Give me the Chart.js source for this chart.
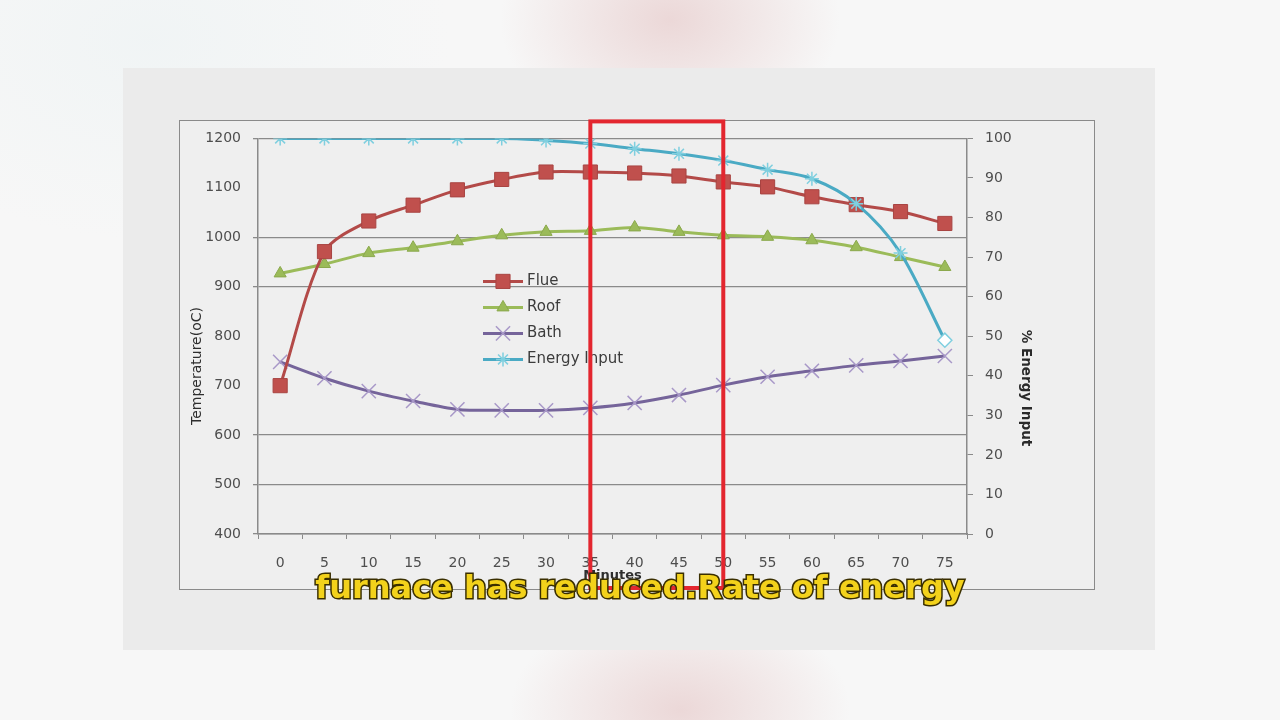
<!DOCTYPE html>
<html>
<head>
<meta charset="utf-8">
<script src="https://cdn.jsdelivr.net/npm/chart.js@4.4.0/dist/chart.umd.min.js"></script>
<style>
  body {
    margin: 0;
    width: 1280px;
    height: 720px;
    overflow: hidden;
    position: relative;
    background:
      radial-gradient(ellipse 170px 120px at 670px 20px, rgba(226,190,190,0.55), rgba(226,190,190,0) 100%),
      radial-gradient(ellipse 170px 110px at 680px 710px, rgba(226,190,190,0.55), rgba(226,190,190,0) 100%),
      radial-gradient(ellipse 300px 200px at 150px 40px, rgba(225,238,240,0.3), rgba(225,238,240,0) 100%),
      #f7f7f7;
    font-family: "DejaVu Sans", sans-serif;
  }
  #panel {
    position: absolute;
    left: 123px; top: 68px;
    width: 1032px; height: 582px;
    background: #ebebeb;
  }
  #frame {
    position: absolute;
    left: 179px; top: 120px;
    width: 914px; height: 468px;
    border: 1.5px solid #8a8a8a;
    background: #efefef;
  }
  #chart {
    position: absolute;
    left: 179px; top: 118px;
  }
  #caption {
    position: absolute;
    left: 0; width: 1280px;
    top: 568px;
    line-height: 37px;
    text-align: center;
    font: bold 32px "DejaVu Sans", sans-serif;
    color: #f3d21b;
    -webkit-text-stroke: 3px #3a2f00;
    paint-order: stroke fill;
  }
</style>
</head>
<body>
<div id="panel"></div>
<div id="frame"></div>
<canvas id="chart" width="916" height="472"></canvas>
<div id="caption">furnace has reduced.Rate of energy</div>

<script>
// minutes on the x axis
const minutes = ['0','5','10','15','20','25','30','35','40','45','50','55','60','65','70','75'];

// temperatures (oC), left axis
const flue = [700, 971, 1033, 1065, 1096, 1117, 1132, 1132, 1130, 1124, 1112, 1102, 1082, 1066, 1052, 1028];
const roof = [927, 946, 968, 979, 992, 1004, 1011, 1013, 1020, 1011, 1004, 1001, 994, 980, 960, 940];
const bath = [748, 715, 689, 669, 652, 650, 650, 655, 665, 681, 701, 718, 730, 741, 750, 760];

// % energy input, right axis
const energy = [100, 100, 100, 100, 100, 100, 99.5, 98.7, 97.4, 96.1, 94.4, 92.1, 89.8, 83.5, 71, 49];

// gridlines that show in the picture (the others are lost in the scan)
const shownGrid = [1200, 1000, 900, 600, 500, 400];

const tickFont = { family: 'DejaVu Sans', size: 14 };
const tickColor = '#4e4e4e';

// legend drawn inside the plot, like the Excel original
const insideLegend = {
  id: 'insideLegend',
  afterDatasetsDraw(chart) {
    const { ctx, chartArea } = chart;
    const x0 = chartArea.left + 225;
    let y = chartArea.top + 143;
    ctx.save();
    chart.data.datasets.forEach(ds => {
      ctx.strokeStyle = ds.borderColor;
      ctx.lineWidth = 3;
      ctx.beginPath();
      ctx.moveTo(x0, y);
      ctx.lineTo(x0 + 40, y);
      ctx.stroke();
      ctx.fillStyle = ds.legendFill;
      ctx.strokeStyle = ds.pointBorderColor;
      ctx.lineWidth = ds.pointBorderWidth;
      Chart.helpers.drawPoint(ctx, {
        pointStyle: ds.legendStyle, radius: ds.pointRadius, rotation: 0, borderWidth: ds.pointBorderWidth
      }, x0 + 20, y);
      ctx.fillStyle = '#3c3c3c';
      ctx.font = '15px "DejaVu Sans"';
      ctx.textBaseline = 'middle';
      ctx.textAlign = 'left';
      ctx.fillText(ds.label, x0 + 44, y);
      y += 26;
    });
    ctx.restore();
  }
};

// y axis titles placed where the original has them
const sideTitles = {
  id: 'sideTitles',
  afterDraw(chart) {
    const { ctx } = chart;
    ctx.save();
    ctx.fillStyle = '#2e2e2e';
    ctx.textAlign = 'center';
    ctx.textBaseline = 'middle';
    ctx.translate(18, 248);
    ctx.rotate(-Math.PI / 2);
    ctx.font = '14px "DejaVu Sans"';
    ctx.fillText('Temperature(oC)', 0, 0);
    ctx.restore();

    ctx.save();
    ctx.fillStyle = '#2a2a2a';
    ctx.textAlign = 'center';
    ctx.textBaseline = 'middle';
    ctx.translate(846, 270);
    ctx.rotate(Math.PI / 2);
    ctx.font = 'bold 13.5px "DejaVu Sans"';
    ctx.fillText('% Energy Input', 0, 0);
    ctx.restore();
  }
};

// red highlight box around 35-50 min
const highlight = {
  id: 'highlight',
  afterDraw(chart) {
    const { ctx, chartArea } = chart;
    const xs = chart.scales.x;
    const left = xs.getPixelForValue(7);
    const right = xs.getPixelForValue(10);
    ctx.save();
    ctx.strokeStyle = '#e3262f';
    ctx.lineWidth = 4;
    ctx.strokeRect(left, chartArea.top - 17, right - left, chartArea.bottom - chartArea.top + 71);
    ctx.restore();
  }
};

new Chart(document.getElementById('chart'), {
  type: 'line',
  data: {
    labels: minutes,
    datasets: [
      {
        label: 'Flue', data: flue, yAxisID: 'y', order: 1,
        borderColor: '#b34a48', borderWidth: 3,
        pointStyle: 'rect', legendStyle: 'rect', pointRadius: 10,
        pointBackgroundColor: '#c0504d', legendFill: '#c0504d',
        pointBorderColor: '#a84442', pointBorderWidth: 1,
        tension: 0.3
      },
      {
        label: 'Roof', data: roof, yAxisID: 'y', order: 2,
        borderColor: '#9bbb59', borderWidth: 3,
        pointStyle: 'triangle', legendStyle: 'triangle', pointRadius: 7,
        pointBackgroundColor: '#9bbb59', legendFill: '#9bbb59',
        pointBorderColor: '#8aa84c', pointBorderWidth: 1,
        tension: 0.3
      },
      {
        label: 'Bath', data: bath, yAxisID: 'y', order: 3,
        borderColor: '#75649a', borderWidth: 3,
        pointStyle: 'crossRot', legendStyle: 'crossRot', pointRadius: 10,
        pointBackgroundColor: '#a898c8', legendFill: '#a898c8',
        pointBorderColor: '#a898c8', pointBorderWidth: 1.5,
        tension: 0.3
      },
      {
        label: 'Energy Input', data: energy, yAxisID: 'y1', order: 0,
        borderColor: '#4aaac4', borderWidth: 3,
        pointStyle: ctx => ctx.dataIndex === energy.length - 1 ? 'rectRot' : 'star',
        legendStyle: 'star', pointRadius: 7,
        pointBackgroundColor: ctx => ctx.dataIndex === energy.length - 1 ? '#ffffff' : '#7fcfdf',
        legendFill: '#7fcfdf',
        pointBorderColor: '#7fcfdf', pointBorderWidth: 1.5,
        cubicInterpolationMode: 'monotone'
      }
    ]
  },
  options: {
    responsive: false,
    animation: false,
    devicePixelRatio: 1,
    layout: { padding: { top: 16, left: 0, right: 0, bottom: 0 } },
    plugins: {
      legend: { display: false },
      tooltip: { enabled: false }
    },
    scales: {
      x: {
        offset: true,
        grid: { offset: true, drawOnChartArea: false, tickLength: 5, color: '#8a8a8a' },
        border: { color: '#8a8a8a', width: 1.5 },
        ticks: { font: tickFont, color: tickColor, padding: 16, maxRotation: 0 },
        title: {
          display: true, text: 'Minutes', color: '#2e2e2e',
          font: { family: 'DejaVu Sans', size: 13, weight: 'bold' },
          padding: { top: 0, bottom: 7 }
        },
        afterFit(scale) { scale.height = 56; }
      },
      y: {
        position: 'left',
        min: 400, max: 1200,
        ticks: { stepSize: 100, font: tickFont, color: tickColor, padding: 12, callback: v => String(v) },
        grid: {
          tickLength: 5,
          lineWidth: 1.3,
          color: c => shownGrid.includes(c.tick && c.tick.value) ? '#8a8a8a' : 'rgba(0,0,0,0)'
        },
        border: { color: '#8a8a8a', width: 1.5 },
        afterFit(scale) { scale.width = 79; }
      },
      y1: {
        position: 'right',
        min: 0, max: 100,
        ticks: { stepSize: 10, font: tickFont, color: tickColor, padding: 12, callback: v => String(v) },
        grid: { drawOnChartArea: false, tickLength: 6, color: '#8a8a8a' },
        border: { color: '#8a8a8a', width: 1.5 },
        afterFit(scale) { scale.width = 128; }
      }
    }
  },
  plugins: [insideLegend, sideTitles, highlight]
});
</script>
</body>
</html>
